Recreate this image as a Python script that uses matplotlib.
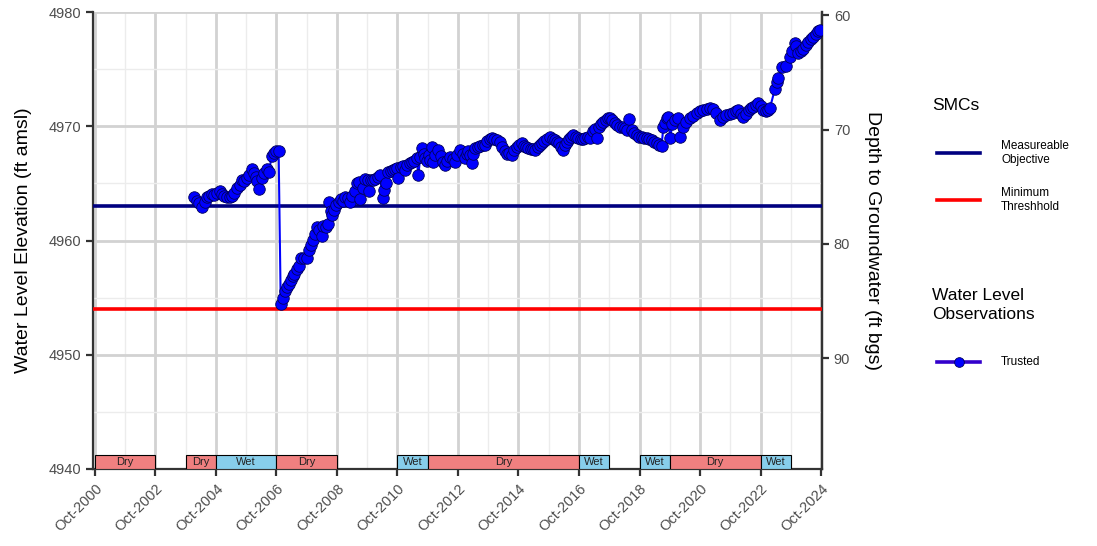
import matplotlib
matplotlib.use("Agg")
import matplotlib.pyplot as plt
from matplotlib.patches import Rectangle
from matplotlib.lines import Line2D

plt.rcParams['font.family'] = ['Liberation Sans', 'DejaVu Sans']

# Observed water level elevations (decimal year, ft amsl)
obs_year = [
    2004.02, 2004.11, 2004.20, 2004.30, 2004.38, 2004.45, 2004.53, 2004.61, 2004.70, 2004.78,
    2004.88, 2004.95, 2005.03, 2005.12, 2005.20, 2005.28, 2005.36, 2005.45, 2005.53, 2005.60,
    2005.68, 2005.76, 2005.85, 2005.93, 2006.00, 2006.06, 2006.12, 2006.18, 2006.26, 2006.34,
    2006.42, 2006.50, 2006.59, 2006.67, 2006.75, 2006.82,
    2006.89, 2006.95, 2007.03, 2007.10, 2007.16, 2007.22, 2007.28, 2007.34, 2007.42, 2007.50,
    2007.56, 2007.66, 2007.77, 2007.84, 2007.90, 2007.97, 2008.03, 2008.08, 2008.16, 2008.24,
    2008.30, 2008.38, 2008.46, 2008.50, 2008.55, 2008.60, 2008.66, 2008.72, 2008.80, 2008.87,
    2008.95, 2009.01, 2009.10, 2009.18, 2009.26, 2009.34, 2009.42, 2009.47, 2009.51, 2009.60,
    2009.68, 2009.76, 2009.82, 2009.88, 2009.95, 2010.02, 2010.10, 2010.17, 2010.26, 2010.30,
    2010.37, 2010.45, 2010.52, 2010.60, 2010.67, 2010.72, 2010.78, 2010.85, 2010.92, 2011.00,
    2011.08, 2011.16, 2011.24, 2011.30, 2011.38, 2011.44, 2011.50, 2011.55, 2011.62, 2011.66,
    2011.72, 2011.78, 2011.82, 2011.88, 2011.93, 2012.00, 2012.10, 2012.18, 2012.25, 2012.32,
    2012.40, 2012.49, 2012.57, 2012.65, 2012.72, 2012.82, 2012.90, 2012.98, 2013.04, 2013.09,
    2013.14, 2013.20, 2013.26, 2013.31, 2013.40, 2013.48, 2013.56, 2013.64, 2013.72, 2013.80,
    2013.88, 2013.95, 2014.04, 2014.14, 2014.22, 2014.30, 2014.36, 2014.44, 2014.53, 2014.60,
    2014.69, 2014.78, 2014.86, 2014.94, 2015.00, 2015.07, 2015.15, 2015.22, 2015.30, 2015.38,
    2015.45, 2015.52, 2015.60, 2015.70, 2015.79, 2015.88, 2015.95, 2016.01, 2016.10, 2016.17,
    2016.23, 2016.30, 2016.34, 2016.42, 2016.50, 2016.56, 2016.64, 2016.72, 2016.80, 2016.88,
    2016.96, 2017.04, 2017.12, 2017.20, 2017.27, 2017.33, 2017.40, 2017.48, 2017.55, 2017.63,
    2017.70, 2017.77, 2017.85, 2017.94, 2018.02, 2018.11, 2018.19, 2018.27, 2018.35, 2018.41,
    2018.49, 2018.57, 2018.66, 2018.74, 2018.82, 2018.90, 2018.99, 2019.07, 2019.15, 2019.24,
    2019.32, 2019.40, 2019.48, 2019.54, 2019.60, 2019.65, 2019.70, 2019.76, 2019.84, 2019.92,
    2020.03, 2020.09, 2020.20, 2020.30, 2020.42, 2020.53, 2020.64, 2020.75, 2020.86, 2020.97,
    2021.08, 2021.19, 2021.27, 2021.41, 2021.50, 2021.60, 2021.74, 2021.85, 2021.94, 2022.02,
    2022.10, 2022.18, 2022.27, 2022.36, 2022.44, 2022.51, 2022.60, 2022.68, 2022.76, 2022.84,
    2022.92, 2023.00, 2023.06, 2023.23, 2023.30, 2023.34, 2023.45, 2023.60, 2023.73, 2023.80,
    2023.89, 2023.94, 2024.00, 2024.08, 2024.16, 2024.24, 2024.33, 2024.41, 2024.50, 2024.58,
    2024.66, 2024.72,
]
obs_elev = [
    4963.85, 4963.50, 4963.30, 4962.95, 4963.40, 4963.85, 4963.90, 4964.10, 4964.00, 4964.20,
    4964.35, 4964.10, 4963.90, 4963.80, 4963.85, 4963.90, 4964.20, 4964.60, 4964.85, 4965.30,
    4965.20, 4965.45, 4965.70, 4966.30, 4965.90, 4965.60, 4965.20, 4964.50, 4965.45, 4965.90,
    4966.30, 4966.00, 4967.40, 4967.70, 4967.80, 4967.85,
    4954.45, 4955.00, 4955.60, 4955.90, 4956.20, 4956.55, 4956.90, 4957.10, 4957.50, 4957.75,
    4958.50, 4958.45, 4958.45, 4959.20, 4959.60, 4960.05, 4960.60, 4961.20, 4960.90, 4960.40,
    4961.30, 4961.20, 4961.45, 4963.35, 4962.60, 4962.20, 4962.70, 4963.10, 4963.40, 4963.60,
    4963.50, 4963.85, 4963.70, 4963.40, 4963.90, 4964.30, 4965.00, 4965.15, 4963.60, 4964.60,
    4965.40, 4965.30, 4964.30, 4965.30, 4965.30, 4965.40, 4965.60, 4965.70, 4963.70, 4964.40,
    4965.00, 4966.00, 4966.10, 4966.20, 4966.30, 4966.35, 4965.50, 4966.40, 4966.50, 4966.20,
    4966.60, 4966.80, 4966.90, 4967.00, 4967.20, 4965.70, 4967.30, 4968.07, 4967.60, 4967.20,
    4967.00, 4967.50, 4967.05, 4968.20, 4966.90, 4967.50, 4967.90, 4967.40, 4966.90, 4966.60,
    4967.00, 4967.35, 4967.10, 4966.90, 4967.50, 4967.90, 4967.60, 4967.20, 4967.60, 4967.80,
    4967.50, 4966.80, 4967.60, 4968.07, 4968.20, 4968.30, 4968.35, 4968.40, 4968.70, 4968.90,
    4969.00, 4968.90, 4968.80, 4968.65, 4968.20, 4967.80, 4967.60, 4967.70, 4967.50, 4967.90,
    4968.20, 4968.40, 4968.50, 4968.30, 4968.20, 4968.07, 4968.00, 4968.00, 4967.90, 4968.20,
    4968.40, 4968.50, 4968.70, 4968.90, 4969.10, 4968.90, 4968.80, 4968.65, 4968.50, 4968.20,
    4967.90, 4968.40, 4968.65, 4968.90, 4969.10, 4969.20, 4969.10, 4969.00, 4968.90, 4968.85,
    4969.00, 4969.10, 4969.00, 4969.60, 4969.75, 4968.95, 4969.90, 4970.20, 4970.40, 4970.55,
    4970.70, 4970.75, 4970.55, 4970.26, 4970.10, 4969.97, 4969.90, 4969.82, 4969.70, 4970.64,
    4969.68, 4969.45, 4969.24, 4969.10, 4969.10, 4969.00, 4968.95, 4968.85, 4968.80, 4968.65,
    4968.50, 4968.40, 4968.30, 4969.97, 4970.30, 4970.70, 4970.80, 4968.95, 4970.20, 4970.55,
    4970.70, 4969.10, 4969.97, 4970.40, 4970.70, 4970.90, 4971.14, 4971.30, 4971.43, 4971.50,
    4971.57, 4971.50, 4971.20, 4970.55, 4970.80, 4971.00, 4971.10, 4971.20, 4971.35, 4971.40,
    4971.10, 4970.84, 4971.10, 4971.40, 4971.60, 4971.70, 4971.90, 4972.00, 4971.80, 4971.40,
    4971.30, 4971.40, 4971.57, 4973.30, 4973.90, 4974.20, 4975.20, 4975.30, 4976.10, 4976.60,
    4977.26, 4977.00, 4976.40, 4976.60, 4976.80, 4977.10, 4977.40, 4977.60, 4977.84, 4978.10,
    4978.30, 4978.45,
]

# Sustainable management criteria (ft amsl)
measurable_objective = 4963.0
minimum_threshold = 4954.0
ground_surface = 5039.7

# Water year classification periods
period_start = [2000.75, 2003.75, 2004.75, 2006.75, 2010.75, 2011.75, 2016.75, 2018.75, 2019.75, 2022.75]
period_end = [2002.75, 2004.75, 2006.75, 2008.75, 2011.75, 2016.75, 2017.75, 2019.75, 2022.75, 2023.75]
period_type = ["Dry", "Dry", "Wet", "Dry", "Wet", "Dry", "Wet", "Wet", "Dry", "Wet"]
period_colors = {"Dry": "#F08080", "Wet": "#87CEEB"}

tick_years = list(range(2000, 2025, 2))
tick_labels = [f"Oct-{y}" for y in tick_years]
elev_ticks = [4940, 4950, 4960, 4970, 4980]
depth_ticks = [60, 70, 80, 90]

W, H = 1097, 546
fig = plt.figure(figsize=(W / 100, H / 100), dpi=100)
ax = fig.add_axes([93 / W, 1 - 469 / H, (822 - 93) / W, (469 - 12) / H])

ax.set_xlim(2000.684, 2024.783)
ax.set_ylim(4940, 4980)

# Grid
ax.set_xticks([y + 0.75 for y in tick_years])
ax.set_xticklabels(tick_labels, rotation=45, ha="right", va="top", rotation_mode="anchor")
ax.set_xticks([y + 0.75 for y in range(2001, 2024, 2)], minor=True)
ax.set_yticks(elev_ticks)
ax.set_yticks([4945, 4955, 4965, 4975], minor=True)
ax.grid(which="major", color="#d2d2d2", linewidth=2.0)
ax.grid(which="minor", color="#ececec", linewidth=1.0)
ax.set_axisbelow(True)

for side in ("left", "right", "bottom"):
    ax.spines[side].set_color("#333333")
    ax.spines[side].set_linewidth(1.6)
ax.spines["top"].set_visible(False)
ax.tick_params(axis="both", which="major", direction="out", length=5, width=1.6,
               color="#333333", labelcolor="#4d4d4d", labelsize=10.5)
ax.tick_params(axis="both", which="minor", length=0)
ax.tick_params(axis="x", pad=4)

# Wet/dry period bars
for s, e, t in zip(period_start, period_end, period_type):
    ax.add_patch(Rectangle((s, 4940), e - s, 1.25, facecolor=period_colors[t],
                           edgecolor="black", linewidth=0.8, zorder=3))
    ax.text((s + e) / 2, 4940.62, t, ha="center", va="center", fontsize=8,
            color="#222222", zorder=4)

# SMC lines
ax.axhline(measurable_objective, color="#000080", linewidth=2.6, zorder=4)
ax.axhline(minimum_threshold, color="#FF0000", linewidth=2.6, zorder=4)

# Observations
ax.plot(obs_year, obs_elev, color="#0000FF", linewidth=1.5, marker="o", markersize=8.3,
        markerfacecolor="#0000FF", markeredgecolor="#00005a", markeredgewidth=0.6, zorder=5)

ax.set_ylabel("Water Level Elevation (ft amsl)", fontsize=14, color="black", labelpad=12)

sec = ax.secondary_yaxis("right", functions=(lambda e: ground_surface - e,
                                              lambda d: ground_surface - d))
sec.set_yticks(depth_ticks)
sec.spines["right"].set_color("#333333")
sec.spines["right"].set_linewidth(1.6)
sec.tick_params(direction="out", length=5, width=1.6, color="#333333",
                labelcolor="#4d4d4d", labelsize=10.5)
sec.set_ylabel("Depth to Groundwater (ft bgs)", fontsize=14, rotation=-90,
               va="bottom", labelpad=10)

# Legend
def fx(x):
    return x / W

def fy(y):
    return 1 - y / H

fig.text(fx(932), fy(105), "SMCs", fontsize=12.5, va="center", ha="left")
for yk, col, lab in [(153, "#000080", "Measureable\nObjective"),
                     (200, "#FF0000", "Minimum\nThreshhold")]:
    fig.add_artist(Line2D([fx(937), fx(980)], [fy(yk), fy(yk)], color=col,
                          linewidth=2.6, transform=fig.transFigure))
    fig.text(fx(1001), fy(yk), lab, fontsize=8.5, va="center", ha="left", linespacing=1.2)

fig.text(fx(932), fy(305), "Water Level\nObservations", fontsize=12.5, va="center",
         ha="left", linespacing=1.3)
fig.add_artist(Line2D([fx(937), fx(980)], [fy(362), fy(362)], color="#3300cc",
                      linewidth=2.6, transform=fig.transFigure))
fig.add_artist(Line2D([fx(958.5)], [fy(362)], color="#0000FF", marker="o", markersize=7,
                      markeredgecolor="#00005a", markeredgewidth=0.6,
                      transform=fig.transFigure))
fig.text(fx(1001), fy(362), "Trusted", fontsize=8.5, va="center", ha="left")

fig.savefig("out.png", dpi=100)
